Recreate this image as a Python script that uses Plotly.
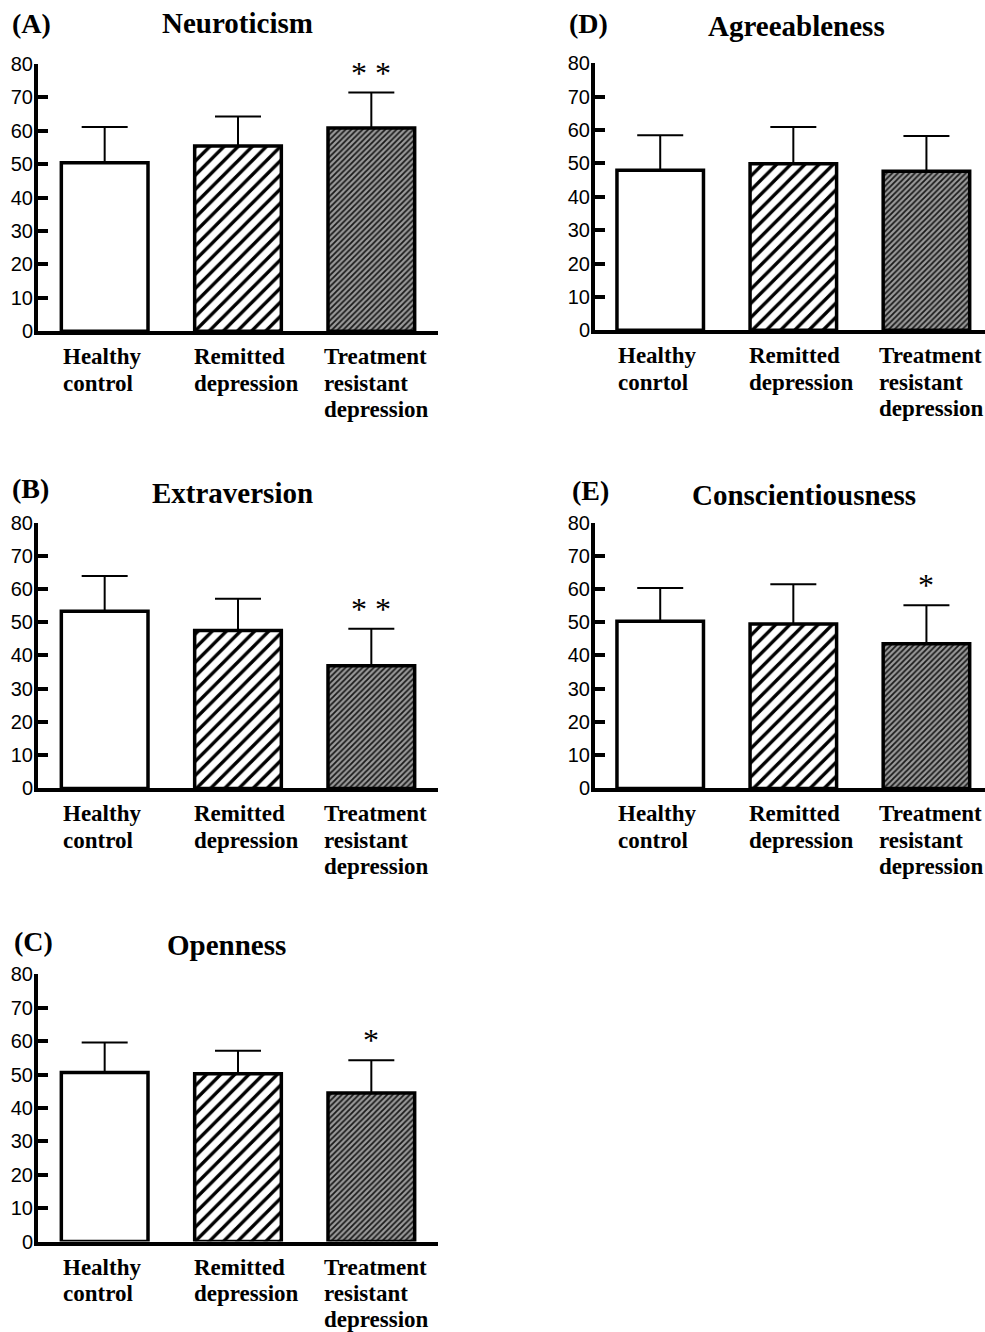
import plotly.graph_objects as go

W, H = 985, 1332

# ---------------- data ----------------
groups = ["Healthy control", "Remitted depression", "Treatment resistant depression"]
group_lines = [["Healthy", "control"], ["Remitted", "depression"], ["Treatment", "resistant", "depression"]]
group_lines_D = [["Healthy", "conrtol"], ["Remitted", "depression"], ["Treatment", "resistant", "depression"]]

traits = ["Neuroticism", "Extraversion", "Openness", "Agreeableness", "Conscientiousness"]
panel_tags = ["(A)", "(B)", "(C)", "(D)", "(E)"]

neuroticism_mean = [50.4, 55.4, 60.8]
neuroticism_sd = [10.7, 8.8, 10.6]
neuroticism_sig = ["", "", "* *"]

extraversion_mean = [53.3, 47.5, 36.9]
extraversion_sd = [10.6, 9.6, 11.1]
extraversion_sig = ["", "", "* *"]

openness_mean = [50.6, 50.2, 44.5]
openness_sd = [9.0, 6.9, 9.8]
openness_sig = ["", "", "*"]

agreeableness_mean = [47.9, 49.9, 47.6]
agreeableness_sd = [10.5, 11.0, 10.6]
agreeableness_sig = ["", "", ""]

conscientiousness_mean = [50.3, 49.5, 43.5]
conscientiousness_sd = [10.0, 11.9, 11.6]
conscientiousness_sig = ["", "", "*"]

y_ticks = [0, 10, 20, 30, 40, 50, 60, 70, 80]

# ---------------- styling ----------------
group_styles = [
    dict(color="white", pattern=dict(shape="")),
    dict(color="white", pattern=dict(shape="/", size=10, solidity=0.34, fgcolor="black",
                                     bgcolor="white", fillmode="replace")),
    dict(color="#888888", pattern=dict(shape="/", size=4, solidity=0.45, fgcolor="#1a1a1a",
                                       bgcolor="#9a9a9a", fillmode="replace")),
]

# vertical pixel mapping (compensates the observed vertical squeeze of the capture)
def vy(y):
    return (y - 10.5) / 0.984

# ---------------- layout geometry (pixels) ----------------
panels = [
    dict(mean=neuroticism_mean, sd=neuroticism_sd, sig=neuroticism_sig, lines=group_lines,
         box=(38, 438, 63.3, 331), xr=[-0.5, 2.5], title=(237.5, 23), tag=(10, 23)),
    dict(mean=extraversion_mean, sd=extraversion_sd, sig=extraversion_sig, lines=group_lines,
         box=(38, 438, 522.3, 788.3), xr=[-0.5, 2.5], title=(232.5, 493), tag=(10, 488)),
    dict(mean=openness_mean, sd=openness_sd, sig=openness_sig, lines=group_lines,
         box=(38, 438, 974.3, 1241.7), xr=[-0.5, 2.5], title=(226, 945), tag=(12, 941)),
    dict(mean=agreeableness_mean, sd=agreeableness_sd, sig=agreeableness_sig, lines=group_lines_D,
         box=(595, 985, 62.7, 330), xr=[-0.49, 2.44], title=(796, 26), tag=(567, 23)),
    dict(mean=conscientiousness_mean, sd=conscientiousness_sd, sig=conscientiousness_sig, lines=group_lines,
         box=(595, 985, 522.3, 788.3), xr=[-0.49, 2.44], title=(803.5, 495), tag=(570, 490)),
]

label_xshift = [-44, -46, -49]
line_offsets = [25.5, 52, 78]

SERIF = "Liberation Serif, Times New Roman, serif"
SANS = "Liberation Sans, Arial, sans-serif"

fig = go.Figure()
annotations = []
layout_axes = {}

for i, p in enumerate(panels):
    n = i + 1
    xa = "x" if n == 1 else f"x{n}"
    ya = "y" if n == 1 else f"y{n}"
    x0, x1, ytop, ybot = p["box"]
    for k in range(3):
        st = group_styles[k]
        fig.add_trace(go.Bar(
            x=[k], y=[p["mean"][k]], width=0.65, name=groups[k],
            xaxis=xa, yaxis=ya, showlegend=False,
            marker=dict(color=st["color"], line=dict(color="black", width=3.5),
                        pattern=st["pattern"]),
            error_y=dict(type="data", symmetric=False, array=[p["sd"][k]],
                         arrayminus=[0], color="black", thickness=2, width=23),
        ))
    xkey = "xaxis" if n == 1 else f"xaxis{n}"
    ykey = "yaxis" if n == 1 else f"yaxis{n}"
    layout_axes[xkey] = dict(
        domain=[x0 / W, x1 / W], range=p["xr"], anchor=ya,
        showline=True, linecolor="black", linewidth=3.5,
        showticklabels=False, ticks="", showgrid=False, zeroline=False, fixedrange=True,
    )
    layout_axes[ykey] = dict(
        domain=[1 - vy(ybot) / H, 1 - vy(ytop) / H], range=[0, 80], anchor=xa,
        showline=True, linecolor="black", linewidth=4,
        tickvals=y_ticks, ticktext=[str(v) for v in y_ticks],
        ticks="inside", ticklen=10, tickwidth=3.5, tickcolor="black",
        tickfont=dict(family=SANS, size=20, color="black"),
        showgrid=False, zeroline=False, fixedrange=True, ticklabelstandoff=-3,
    )
    tx, ty = p["title"]
    annotations.append(dict(text=f"<b>{traits[i]}</b>", xref="paper", yref="paper",
                            x=tx / W, y=1 - vy(ty) / H, xanchor="center", yanchor="middle",
                            showarrow=False, font=dict(family=SERIF, size=29, color="black")))
    gx, gy = p["tag"]
    annotations.append(dict(text=f"<b>{panel_tags[i]}</b>", xref="paper", yref="paper",
                            x=gx / W, y=1 - vy(gy) / H, xanchor="left", yanchor="middle",
                            showarrow=False, font=dict(family=SERIF, size=28, color="black")))
    for k, lines in enumerate(p["lines"]):
        for j, line in enumerate(lines):
            annotations.append(dict(text=f"<b>{line}</b>", xref=xa, yref="paper",
                                    x=k, xshift=label_xshift[k],
                                    y=1 - vy(ybot + line_offsets[j]) / H,
                                    xanchor="left", yanchor="middle", showarrow=False,
                                    font=dict(family=SERIF, size=23, color="black")))
    for k, s in enumerate(p["sig"]):
        if s:
            annotations.append(dict(text=s, xref=xa, yref=ya, x=k, y=p["mean"][k] + p["sd"][k],
                                    xanchor="center", yanchor="middle", yshift=20, showarrow=False,
                                    font=dict(family=SERIF, size=32, color="black")))

fig.update_layout(
    width=W, height=H,
    margin=dict(l=0, r=0, t=0, b=0),
    paper_bgcolor="white", plot_bgcolor="white",
    annotations=annotations,
    barmode="overlay",
    **layout_axes,
)

fig.write_html(
    "out.html",
    config={"displayModeBar": False},
    post_script=(
        "document.documentElement.style.margin='0';"
        "document.documentElement.style.overflow='hidden';"
        "document.body.style.margin='0';document.body.style.padding='0';"
        "document.body.style.overflow='hidden';"
        "var gd=document.getElementById('{plot_id}');"
        "gd.style.position='fixed';gd.style.left='0px';gd.style.top='0px';"
    ),
)
